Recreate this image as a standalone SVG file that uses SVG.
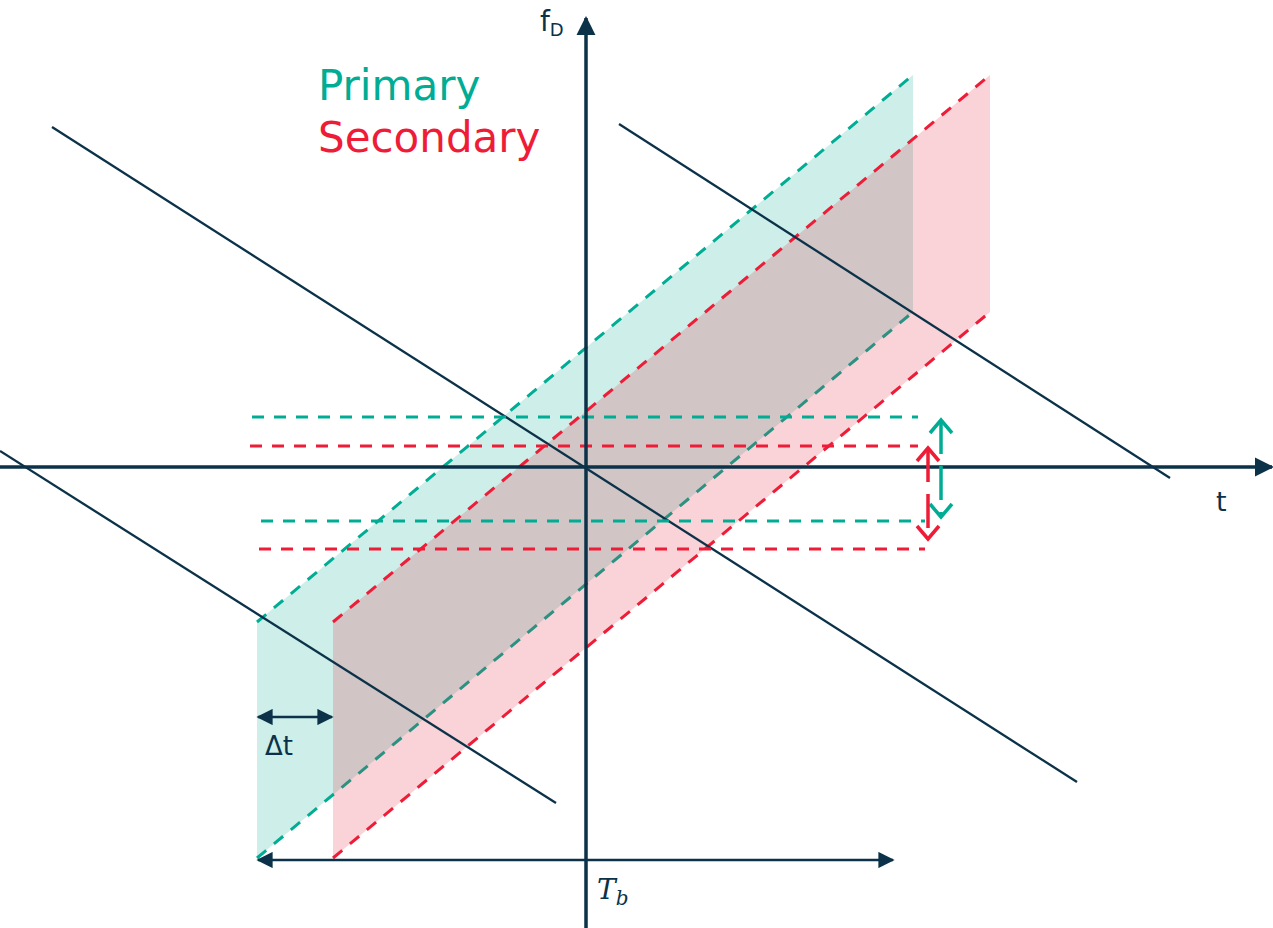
<svg xmlns="http://www.w3.org/2000/svg" width="1273" height="928" viewBox="0 0 1273 928">
<style>
.nv{stroke:#0b3249;fill:none}
.dt{stroke:#00ad94;stroke-width:3;stroke-dasharray:12 10;fill:none}
.dr{stroke:#ee1c36;stroke-width:3;stroke-dasharray:12 10;fill:none}
.lbl{font-family:"DejaVu Sans","Liberation Sans",sans-serif;fill:#0b3249}
</style>
<defs>
<marker id="ah" viewBox="0 0 10 10" refX="9" refY="5" markerWidth="5.5" markerHeight="5.5" orient="auto-start-reverse" markerUnits="strokeWidth">
<path d="M0,0 L10,5 L0,10 Z" fill="#0b3249"/>
</marker>
<marker id="ahs" viewBox="0 0 10 10" refX="9" refY="5" markerWidth="6.5" markerHeight="6.5" orient="auto-start-reverse" markerUnits="strokeWidth">
<path d="M0,0 L10,5 L0,10 Z" fill="#0b3249"/>
</marker>
</defs>
<rect width="1273" height="928" fill="#ffffff"/>
<g id="primary">
<polygon points="257,858 257,622 913,75 913,312" fill="#05aa91" fill-opacity="0.2"/>
<line class="dt" x1="257" y1="622" x2="913" y2="75"/>
<line class="dt" x1="257" y1="858" x2="913" y2="312"/>
</g>
<g id="secondary">
<polygon points="333,858 333,622 990,75 990,312" fill="#e1233c" fill-opacity="0.2"/>
<line class="dr" x1="333" y1="622" x2="990" y2="75"/>
<line class="dr" x1="333" y1="858" x2="990" y2="312"/>
</g>
<g id="connectors">
<line class="nv" stroke-width="2.3" x1="52" y1="127" x2="1077" y2="782"/>
<line class="nv" stroke-width="2.3" x1="619" y1="124" x2="1170" y2="478"/>
<line class="nv" stroke-width="2.3" x1="0" y1="451" x2="556" y2="803"/>
<line class="dt" x1="252" y1="417" x2="918" y2="417"/>
<line class="dr" x1="250" y1="446" x2="918" y2="446"/>
<line class="dt" x1="261" y1="521" x2="925" y2="521"/>
<line class="dr" x1="259" y1="549" x2="925" y2="549"/>
<line class="nv" stroke-width="3.5" x1="0" y1="467" x2="1272" y2="467" marker-end="url(#ah)"/>
<line class="nv" stroke-width="3.5" x1="586" y1="928" x2="586" y2="18" marker-end="url(#ah)"/>
<line class="nv" stroke-width="2.5" x1="258" y1="717" x2="332" y2="717" marker-start="url(#ahs)" marker-end="url(#ahs)"/>
<line class="nv" stroke-width="2.5" x1="258" y1="860" x2="893" y2="860" marker-start="url(#ahs)" marker-end="url(#ahs)"/>
<g stroke="#00ad94" stroke-width="3.5" fill="none">
<path d="M941,420 L941,517" stroke-dasharray="34 12"/>
<path d="M930,433 L941,420 L952,433"/>
<path d="M930,504 L941,517 L952,504"/>
</g>
<g stroke="#ee1c36" stroke-width="3.5" fill="none">
<path d="M928,448 L928,539" stroke-dasharray="34 12"/>
<path d="M917,461 L928,448 L939,461"/>
<path d="M917,526 L928,539 L939,526"/>
</g>
</g>
<g id="labels">
<text x="318" y="100" font-family="DejaVu Sans, Liberation Sans, sans-serif" font-size="42" fill="#00ad94">Primary</text>
<text x="318" y="152" font-family="DejaVu Sans, Liberation Sans, sans-serif" font-size="42" fill="#ee1c36">Secondary</text>
<text class="lbl" x="540" y="31" font-size="28">f<tspan font-size="18" dy="5">D</tspan></text>
<text class="lbl" x="1216" y="511" font-size="27">t</text>
<text class="lbl" x="265" y="755" font-size="26">Δt</text>
<text x="597" y="899" font-family="DejaVu Serif, Liberation Serif, serif" font-style="italic" font-size="28" fill="#0b3249">T<tspan font-size="20" dy="6">b</tspan></text>
</g>
</svg>
